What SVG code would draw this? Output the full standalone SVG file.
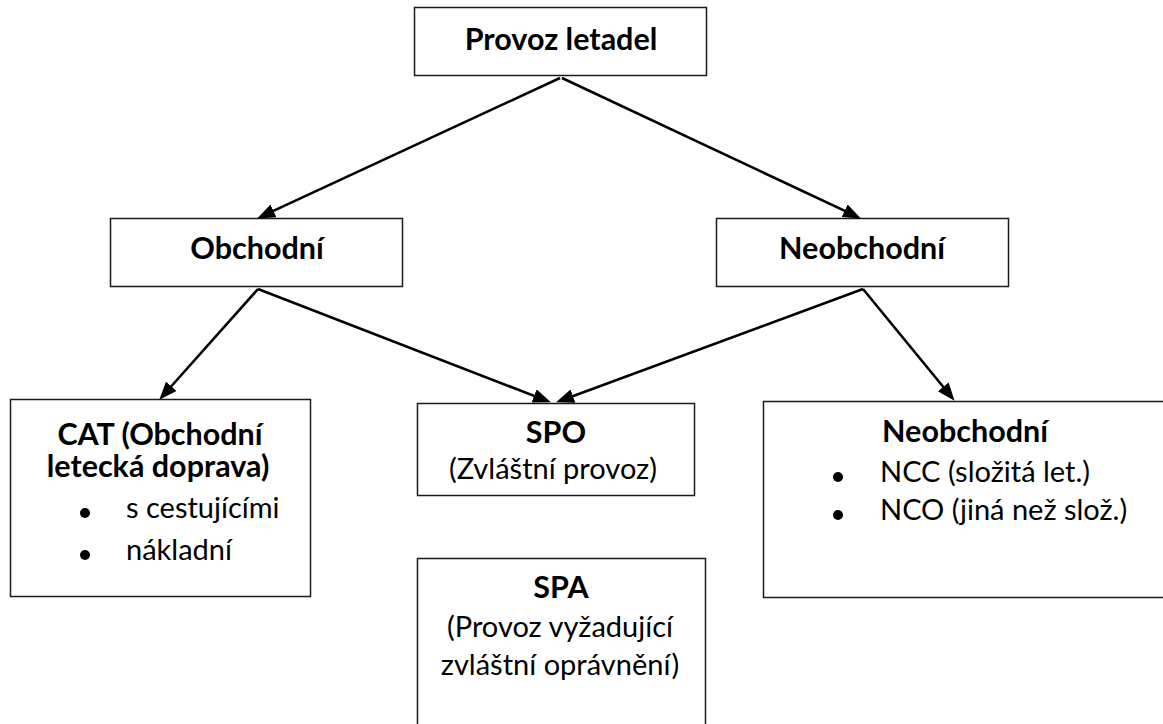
<svg xmlns="http://www.w3.org/2000/svg" width="1163" height="724" viewBox="0 0 1163 724">
<style>
.box{fill:#fff;stroke:#1a1a1a;stroke-width:1.5}
.conn{stroke:#000;stroke-width:2.6;fill:none;marker-end:url(#ah)}
text{font-family:Lato,"Open Sans","Liberation Sans",sans-serif;fill:#000;font-size:29px}
.b{font-weight:bold;font-size:30.5px}
.c{text-anchor:middle}
</style>
<defs>
<marker id="ah" markerUnits="userSpaceOnUse" markerWidth="20" markerHeight="16" refX="9" refY="7" orient="auto">
<path d="M0,0 L18,7 L0,14 z" fill="#000"/>
</marker>
<clipPath id="spoclip"><rect x="417" y="403" width="278" height="82"/></clipPath>
</defs>
<rect width="1163" height="724" fill="#fff"/>
<g id="n-provoz">
<rect class="box" x="414.5" y="7.5" width="292" height="68"/>
<text class="b c" x="561" y="50">Provoz letadel</text>
</g>
<g id="n-obchodni">
<rect class="box" x="110.5" y="218.5" width="292" height="68"/>
<text class="b c" x="257" y="259">Obchodní</text>
</g>
<g id="n-neobchodni">
<rect class="box" x="716.5" y="218.5" width="292" height="68"/>
<text class="b c" x="862" y="259">Neobchodní</text>
</g>
<g id="n-cat">
<rect class="box" x="10.5" y="399.5" width="300" height="197"/>
<text class="b c" x="160" y="445">CAT (Obchodní</text>
<text class="b c" x="158" y="477">letecká doprava)</text>
<circle cx="85" cy="513" r="5"/>
<text x="126" y="518">s cestujícími</text>
<circle cx="85" cy="555" r="5"/>
<text x="126" y="560">nákladní</text>
</g>
<g id="n-spo">
<rect class="box" x="417.5" y="403.5" width="277" height="92"/>
<text class="b c" x="556" y="443">SPO</text>
<text class="c" x="553" y="479" clip-path="url(#spoclip)">(Zvláštní provoz)</text>
</g>
<g id="n-neobchodni2">
<rect class="box" x="763.5" y="401.5" width="420" height="196"/>
<text class="b c" x="965" y="442">Neobchodní</text>
<circle cx="838" cy="477" r="5"/>
<text x="880" y="482">NCC (složitá let.)</text>
<circle cx="838" cy="515" r="5"/>
<text x="880" y="520">NCO (jiná než slož.)</text>
</g>
<g id="n-spa">
<rect class="box" x="417.5" y="558.5" width="288" height="190"/>
<text class="b c" x="561" y="598">SPA</text>
<text class="c" x="560" y="637">(Provoz vyžadující</text>
<text class="c" x="560" y="675">zvláštní oprávnění)</text>
</g>
<g id="connectors">
<line class="conn" x1="560" y1="78" x2="265.3" y2="214.6"/>
<line class="conn" x1="562" y1="78" x2="852.8" y2="214.6"/>
<line class="conn" x1="258" y1="289" x2="165.3" y2="393"/>
<line class="conn" x1="258" y1="289" x2="542.5" y2="399.1"/>
<line class="conn" x1="863" y1="289" x2="564.5" y2="399.2"/>
<line class="conn" x1="863" y1="289" x2="948.9" y2="393.8"/>
</g>
</svg>
